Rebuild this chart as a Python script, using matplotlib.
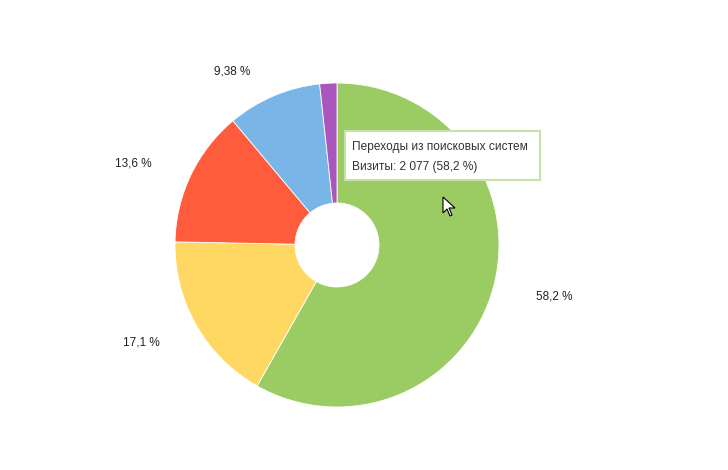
import numpy as np
import matplotlib
matplotlib.use("Agg")
import matplotlib.pyplot as plt
from matplotlib.patches import FancyBboxPatch, Polygon

plt.rcParams.update({
    "font.family": ["Liberation Sans", "DejaVu Sans"],
})

# данные: доля визитов по источникам
sources = ["Переходы из поисковых систем", "Прямые заходы", "Переходы по ссылкам на сайтах",
           "Внутренние переходы", "Переходы из социальных сетей"]
visits = [2077, 610, 485, 335, 61]
pct_labels = ["58,2 %", "17,1 %", "13,6 %", "9,38 %", ""]
colors = ["#9BCC63", "#FFD864", "#FF5C3E", "#79B5E7", "#A957BC"]

# раскладка подписей (расстояние от центра и небольшой сдвиг по углу, градусы против часовой)
label_dist = [1.38, 1.35, 1.355, 1.25, 1.3]
label_shift = [1.4, -3.1, 3.9, 8.2, 0]

W, H = 728, 470
CX, CY, R = 337, 245, 162  # центр и радиус в пикселях

fig = plt.figure(figsize=(W / 100, H / 100), dpi=100)
ax = fig.add_axes([0, 0, 1, 1])
wedges, texts = ax.pie(visits, colors=colors, startangle=90, counterclock=False,
                       labels=pct_labels, labeldistance=1.36,
                       textprops={"fontsize": 8.5, "color": "#222222", "ha": "center", "va": "center"},
                       wedgeprops={"width": 1 - 42 / 162, "edgecolor": "white", "linewidth": 0.6})
for w, t, d, s in zip(wedges, texts, label_dist, label_shift):
    ang = np.deg2rad((w.theta1 + w.theta2) / 2 + s)
    t.set_position((d * np.cos(ang), d * np.sin(ang)))
ax.set_xlim(-CX / R, (W - CX) / R)
ax.set_ylim(-(H - CY) / R, CY / R)
ax.set_aspect("auto")
ax.axis("off")

# всплывающая подсказка
def px(x, y):
    return x / W, 1 - y / H

x0, y0 = px(345, 180)
x1, y1 = px(540, 131)
box = FancyBboxPatch((x0, y0), x1 - x0, y1 - y0, boxstyle="square,pad=0",
                     transform=fig.transFigure, facecolor="white",
                     edgecolor="#C7E2A8", linewidth=1.5, zorder=5)
fig.patches.append(box)
fig.text(*px(352, 147), sources[0], fontsize=8.6, color="#333333", va="center", zorder=6)
share = visits[0] / sum(visits) * 100
fig.text(*px(352, 167), "Визиты: {:,} ({:.1f} %)".format(visits[0], share).replace(",", " ").replace(".", ","),
         fontsize=8.6, color="#333333", va="center", zorder=6)

# курсор мыши
cur = [(443, 197), (443, 213), (447, 209), (450, 216), (452, 215), (449, 208), (455, 208)]
fig.patches.append(Polygon([px(x, y) for x, y in cur], closed=True, transform=fig.transFigure,
                           facecolor="white", edgecolor="black", linewidth=0.8, zorder=7))

fig.savefig("out.png", dpi=100, facecolor="white")
